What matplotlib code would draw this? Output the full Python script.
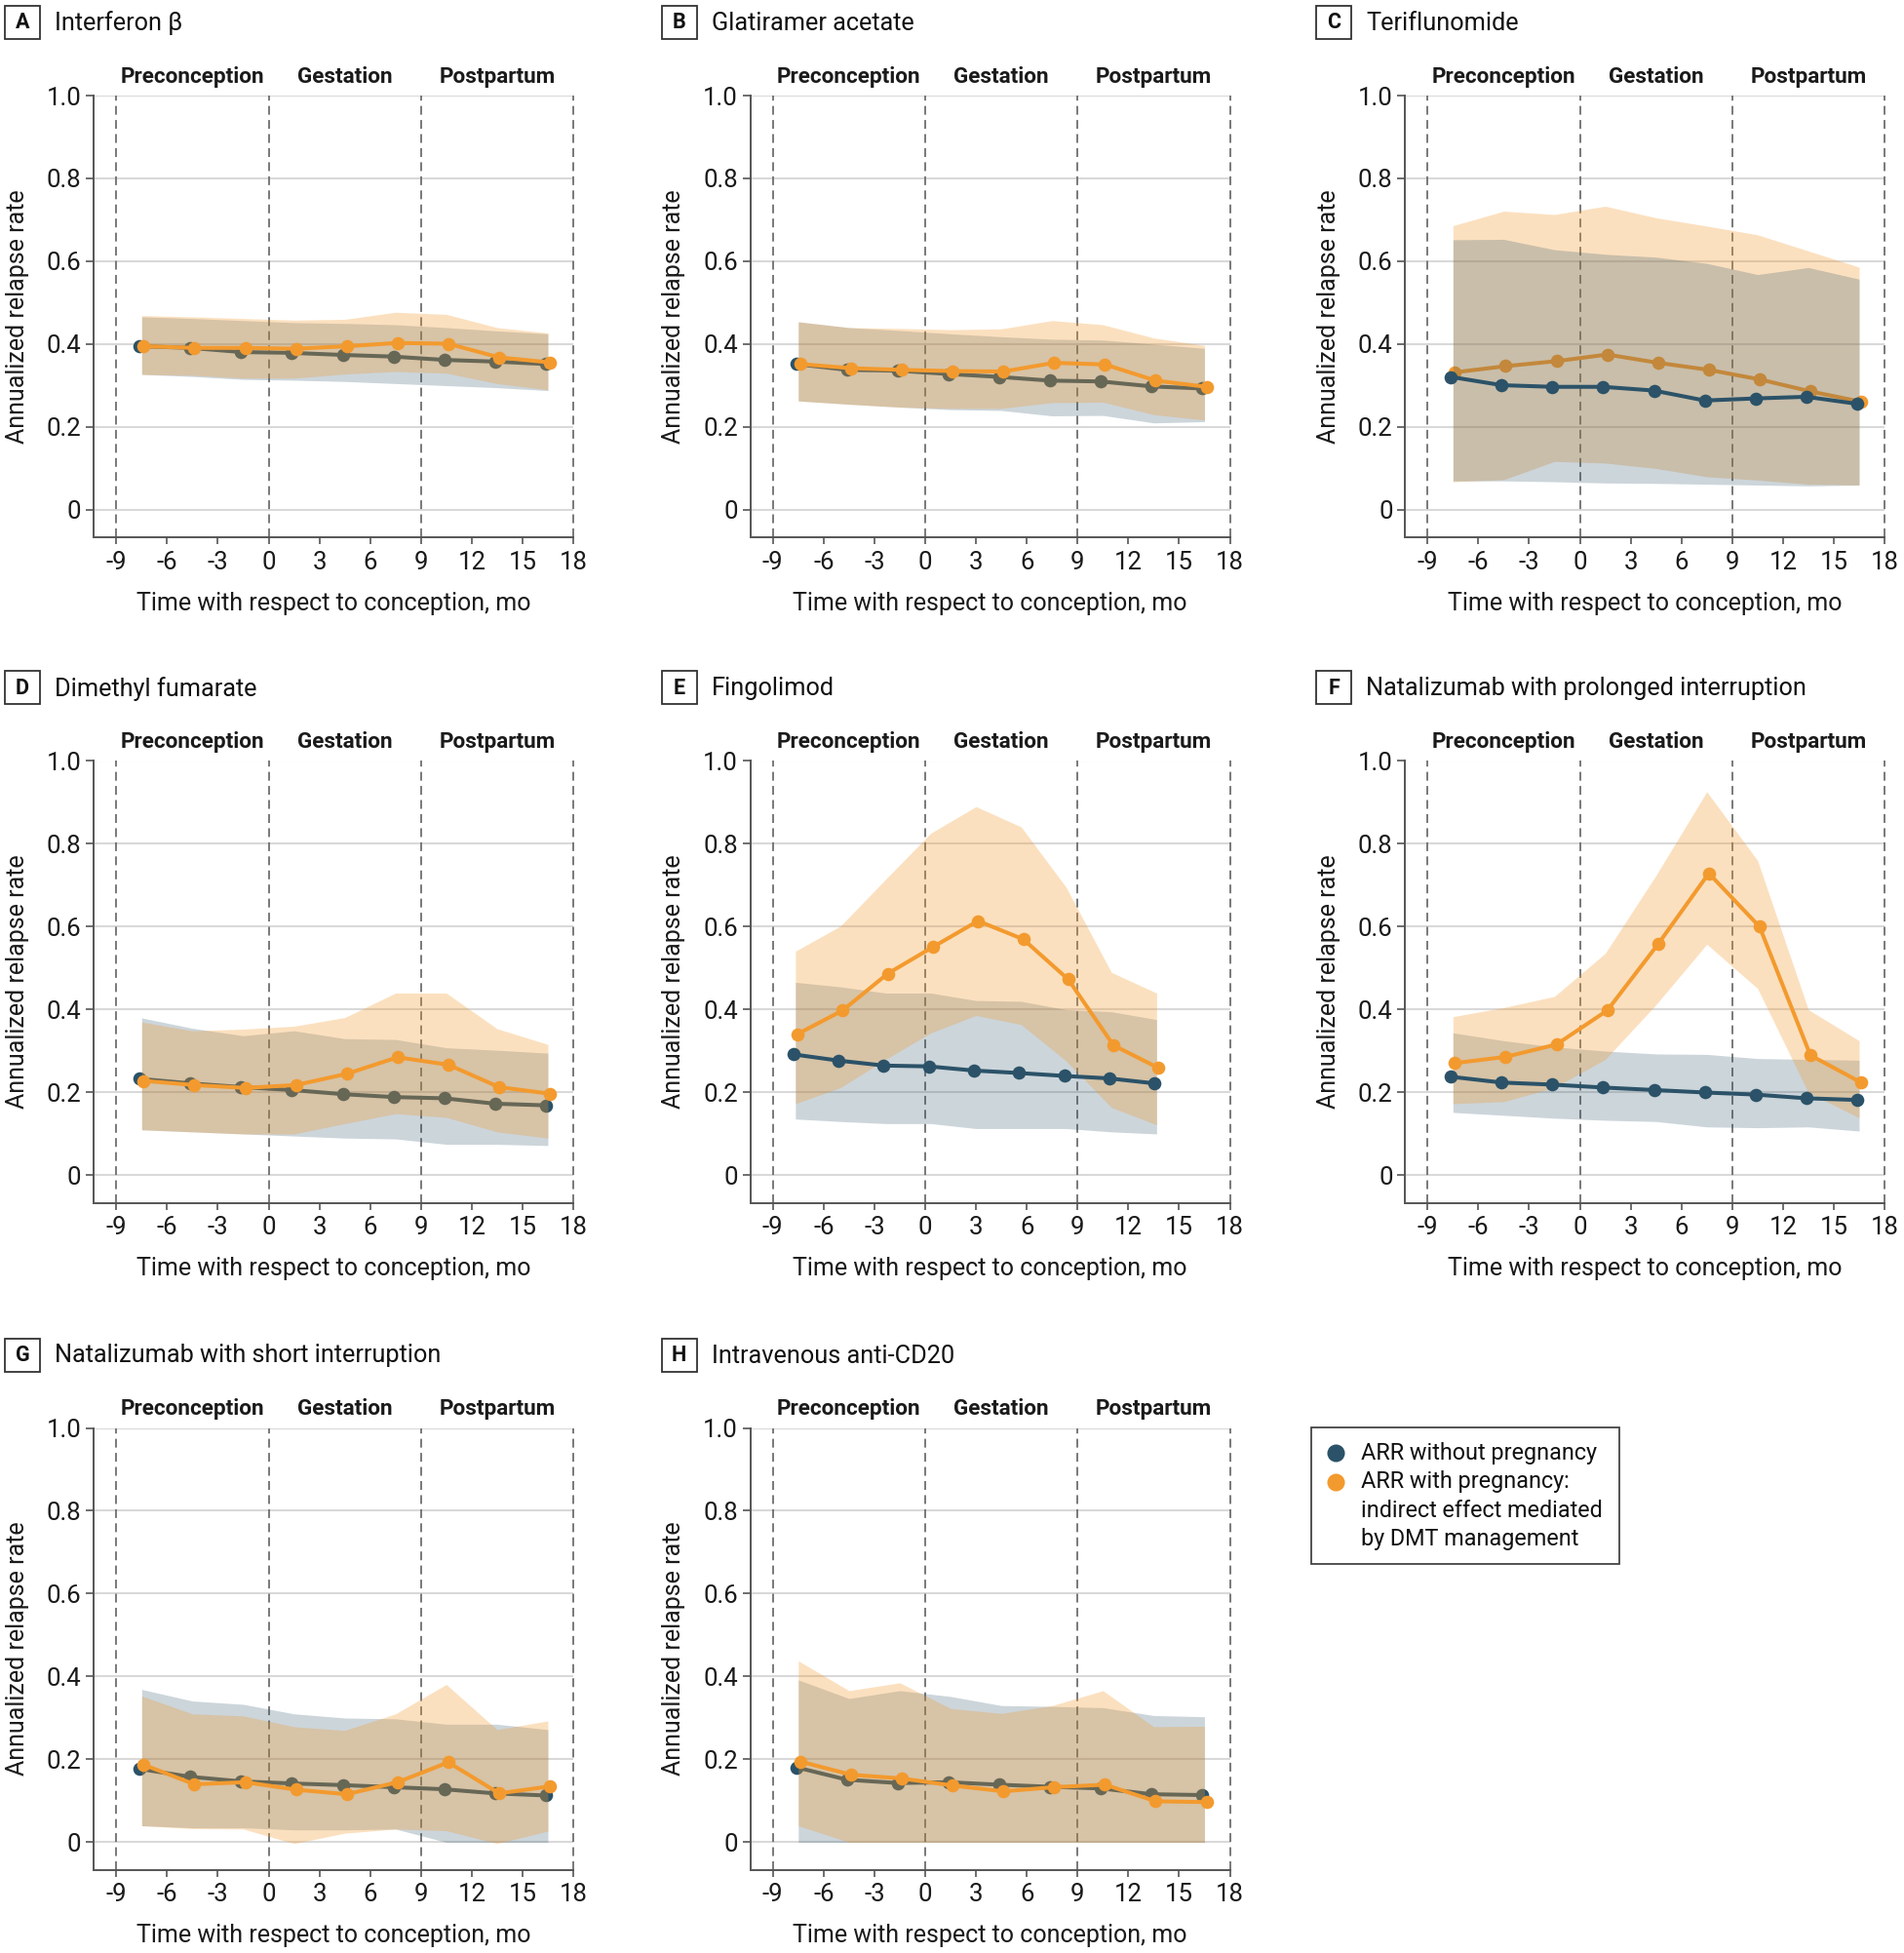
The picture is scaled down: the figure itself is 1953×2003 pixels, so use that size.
import matplotlib.pyplot as plt
import matplotlib.patches as mpatches
from matplotlib.lines import Line2D

plt.rcParams['font.family'] = ['Roboto', 'DejaVu Sans']
plt.rcParams['axes.unicode_minus'] = False

# Time bins (months with respect to conception)
months = [-7.5, -4.5, -1.5, 1.5, 4.5, 7.5, 10.5, 13.5, 16.5]
months_fingolimod = [-7.67, -5.0, -2.33, 0.33, 3.0, 5.67, 8.33, 11.0, 13.67]

period_names = ['Preconception', 'Gestation', 'Postpartum']
period_centers = [-4.5, 4.5, 13.5]
period_bounds = [-9, 0, 9, 18]
x_ticks = [-9, -6, -3, 0, 3, 6, 9, 12, 15, 18]
y_ticks = [0, 0.2, 0.4, 0.6, 0.8, 1.0]
y_ticklabels = ['0', '0.2', '0.4', '0.6', '0.8', '1.0']

# A Interferon beta
ifn_no = [0.395, 0.391, 0.381, 0.379, 0.374, 0.370, 0.362, 0.358, 0.352]
ifn_no_lo = [0.327, 0.322, 0.315, 0.313, 0.310, 0.305, 0.300, 0.295, 0.288]
ifn_no_hi = [0.466, 0.462, 0.457, 0.452, 0.450, 0.447, 0.440, 0.432, 0.425]
ifn_preg = [0.395, 0.391, 0.391, 0.389, 0.395, 0.403, 0.401, 0.368, 0.356]
ifn_preg_lo = [0.327, 0.325, 0.318, 0.318, 0.328, 0.334, 0.330, 0.305, 0.290]
ifn_preg_hi = [0.469, 0.466, 0.462, 0.458, 0.460, 0.477, 0.472, 0.440, 0.427]

# B Glatiramer acetate
ga_no = [0.352, 0.338, 0.336, 0.328, 0.321, 0.312, 0.310, 0.298, 0.293]
ga_no_lo = [0.263, 0.255, 0.248, 0.242, 0.240, 0.227, 0.228, 0.210, 0.213]
ga_no_hi = [0.454, 0.440, 0.433, 0.425, 0.418, 0.412, 0.410, 0.400, 0.390]
ga_preg = [0.352, 0.342, 0.338, 0.335, 0.334, 0.355, 0.351, 0.312, 0.297]
ga_preg_lo = [0.263, 0.255, 0.248, 0.245, 0.245, 0.259, 0.260, 0.230, 0.217]
ga_preg_hi = [0.454, 0.440, 0.438, 0.435, 0.437, 0.457, 0.447, 0.415, 0.397]

# C Teriflunomide
ter_no = [0.321, 0.301, 0.297, 0.297, 0.288, 0.264, 0.269, 0.273, 0.256]
ter_no_lo = [0.070, 0.070, 0.068, 0.065, 0.064, 0.062, 0.060, 0.058, 0.060]
ter_no_hi = [0.652, 0.653, 0.628, 0.617, 0.610, 0.595, 0.568, 0.585, 0.557]
ter_preg = [0.332, 0.347, 0.359, 0.375, 0.355, 0.338, 0.315, 0.286, 0.261]
ter_preg_lo = [0.068, 0.073, 0.117, 0.113, 0.100, 0.080, 0.072, 0.062, 0.060]
ter_preg_hi = [0.686, 0.721, 0.713, 0.733, 0.705, 0.685, 0.664, 0.625, 0.586]

# D Dimethyl fumarate
dmf_no = [0.233, 0.222, 0.213, 0.206, 0.196, 0.189, 0.186, 0.173, 0.169]
dmf_no_lo = [0.110, 0.105, 0.100, 0.095, 0.090, 0.088, 0.075, 0.075, 0.072]
dmf_no_hi = [0.380, 0.355, 0.337, 0.349, 0.330, 0.328, 0.308, 0.302, 0.295]
dmf_preg = [0.228, 0.218, 0.211, 0.218, 0.245, 0.285, 0.267, 0.213, 0.197]
dmf_preg_lo = [0.110, 0.105, 0.100, 0.100, 0.125, 0.149, 0.140, 0.105, 0.090]
dmf_preg_hi = [0.370, 0.349, 0.353, 0.360, 0.381, 0.440, 0.440, 0.354, 0.316]

# E Fingolimod
fin_no = [0.292, 0.277, 0.265, 0.263, 0.253, 0.247, 0.240, 0.234, 0.222]
fin_no_lo = [0.136, 0.130, 0.125, 0.125, 0.113, 0.113, 0.113, 0.105, 0.100]
fin_no_hi = [0.466, 0.455, 0.440, 0.440, 0.422, 0.420, 0.400, 0.395, 0.376]
fin_preg = [0.341, 0.398, 0.487, 0.551, 0.614, 0.570, 0.473, 0.314, 0.259]
fin_preg_lo = [0.173, 0.212, 0.280, 0.344, 0.386, 0.364, 0.276, 0.164, 0.122]
fin_preg_hi = [0.541, 0.602, 0.715, 0.826, 0.890, 0.841, 0.695, 0.490, 0.440]

# F Natalizumab, prolonged interruption
natp_no = [0.238, 0.224, 0.219, 0.212, 0.206, 0.200, 0.195, 0.186, 0.182]
natp_no_lo = [0.152, 0.145, 0.138, 0.133, 0.130, 0.117, 0.115, 0.117, 0.107]
natp_no_hi = [0.344, 0.325, 0.310, 0.300, 0.293, 0.292, 0.282, 0.280, 0.278]
natp_preg = [0.271, 0.286, 0.316, 0.398, 0.558, 0.729, 0.600, 0.290, 0.224]
natp_preg_lo = [0.173, 0.178, 0.212, 0.280, 0.412, 0.558, 0.451, 0.200, 0.139]
natp_preg_hi = [0.383, 0.405, 0.432, 0.536, 0.724, 0.926, 0.760, 0.400, 0.325]

# G Natalizumab, short interruption
nats_no = [0.177, 0.158, 0.147, 0.142, 0.138, 0.133, 0.128, 0.118, 0.113]
nats_no_lo = [0.040, 0.035, 0.035, 0.030, 0.030, 0.032, 0.000, 0.000, 0.000]
nats_no_hi = [0.369, 0.341, 0.333, 0.310, 0.300, 0.298, 0.285, 0.285, 0.272]
nats_preg = [0.187, 0.140, 0.145, 0.127, 0.116, 0.145, 0.193, 0.118, 0.135]
nats_preg_lo = [0.040, 0.033, 0.032, -0.003, 0.022, 0.032, 0.028, -0.003, 0.027]
nats_preg_hi = [0.353, 0.310, 0.305, 0.279, 0.270, 0.310, 0.381, 0.272, 0.293]

# H Intravenous anti-CD20
cd20_no = [0.181, 0.151, 0.143, 0.145, 0.139, 0.134, 0.130, 0.116, 0.114]
cd20_no_lo = [0.000, 0.000, 0.000, 0.000, 0.000, 0.000, 0.000, 0.000, 0.000]
cd20_no_hi = [0.392, 0.347, 0.366, 0.352, 0.330, 0.328, 0.325, 0.306, 0.303]
cd20_preg = [0.195, 0.163, 0.154, 0.137, 0.123, 0.133, 0.139, 0.099, 0.097]
cd20_preg_lo = [0.040, 0.000, 0.000, 0.000, 0.000, 0.000, 0.000, 0.000, 0.000]
cd20_preg_hi = [0.438, 0.366, 0.385, 0.323, 0.311, 0.330, 0.366, 0.279, 0.280]

panels = [
    ('A', 'Interferon β', months, ifn_no, ifn_no_lo, ifn_no_hi, ifn_preg, ifn_preg_lo, ifn_preg_hi),
    ('B', 'Glatiramer acetate', months, ga_no, ga_no_lo, ga_no_hi, ga_preg, ga_preg_lo, ga_preg_hi),
    ('C', 'Teriflunomide', months, ter_no, ter_no_lo, ter_no_hi, ter_preg, ter_preg_lo, ter_preg_hi),
    ('D', 'Dimethyl fumarate', months, dmf_no, dmf_no_lo, dmf_no_hi, dmf_preg, dmf_preg_lo, dmf_preg_hi),
    ('E', 'Fingolimod', months_fingolimod, fin_no, fin_no_lo, fin_no_hi, fin_preg, fin_preg_lo, fin_preg_hi),
    ('F', 'Natalizumab with prolonged interruption', months, natp_no, natp_no_lo, natp_no_hi,
     natp_preg, natp_preg_lo, natp_preg_hi),
    ('G', 'Natalizumab with short interruption', months, nats_no, nats_no_lo, nats_no_hi,
     nats_preg, nats_preg_lo, nats_preg_hi),
    ('H', 'Intravenous anti-CD20', months, cd20_no, cd20_no_lo, cd20_no_hi, cd20_preg, cd20_preg_lo, cd20_preg_hi),
]

GRAY = '#2B5268'
ORANGE = '#F39A2E'
AXIS = '#555555'
TXT = '#1a1a1a'

# drawing order (band no, line no, band preg, line preg) - differs a bit between panels
z_default = (1, 2, 3, 4)
z_order = {'C': (3, 4, 1, 2), 'E': (1, 3, 1.5, 4), 'F': (1, 3, 1.5, 4)}

W, H = 1953, 2003
fig = plt.figure(figsize=(W / 100, H / 100), dpi=100)

col_left = [96, 769.5, 1441]
row_top = [98, 780.5, 1464.5]
ax_w, ax_h = 492, 453

for i, (letter, title, x, no, no_lo, no_hi, preg, preg_lo, preg_hi) in enumerate(panels):
    left = col_left[i % 3]
    top = row_top[i // 3]
    ax = fig.add_axes([left / W, 1 - (top + ax_h) / H, ax_w / W, ax_h / H])

    zb_no, zl_no, zb_pr, zl_pr = z_order.get(letter, z_default)
    x_no = [v - 0.12 for v in x]
    x_pr = [v + 0.12 for v in x]
    ax.fill_between(x, no_lo, no_hi, color=GRAY, alpha=0.24, lw=0, zorder=zb_no)
    ax.plot(x_no, no, color=GRAY, lw=2.9, marker='o', ms=9.8, mew=0, zorder=zl_no)
    ax.fill_between(x, preg_lo, preg_hi, color=ORANGE, alpha=0.3, lw=0, zorder=zb_pr)
    ax.plot(x_pr, preg, color=ORANGE, lw=2.9, marker='o', ms=9.8, mew=0, zorder=zl_pr)

    for b in period_bounds:
        ax.axvline(b, color='#6e6e6e', lw=1.3, ls=(0, (5, 3)), zorder=0.8, clip_on=False)
    for name, c in zip(period_names, period_centers):
        ax.text(c, 1.02, name, ha='center', va='bottom', fontsize=16.2, fontweight='bold', color=TXT)

    ax.set_xlim(-10.34, 18)
    ax.set_ylim(-0.066, 1.0)
    ax.set_xticks(x_ticks)
    ax.set_xticklabels([str(t) for t in x_ticks])
    ax.set_yticks(y_ticks)
    ax.set_yticklabels(y_ticklabels)
    ax.yaxis.grid(True, color='#d9d9d9', lw=1.5)
    ax.set_axisbelow(True)
    for s in ['top', 'right']:
        ax.spines[s].set_visible(False)
    for s in ['left', 'bottom']:
        ax.spines[s].set_color(AXIS)
        ax.spines[s].set_linewidth(1.4)
    ax.tick_params(axis='x', length=5, width=1.2, color=AXIS, labelsize=18.5, pad=5, labelcolor=TXT)
    ax.tick_params(axis='y', length=6, width=1.2, color=AXIS, labelsize=18.5, pad=3, labelcolor=TXT)
    ax.set_xlabel('Time with respect to conception, mo', fontsize=18, color=TXT, va='top')
    ax.xaxis.set_label_coords(0.5, -0.123)
    ax.set_ylabel('Annualized relapse rate', fontsize=18, color=TXT)
    ax.yaxis.set_label_coords(-0.135, 0.5)

    # panel letter box and title
    bx, by = left - 91, top - 92
    fig.add_artist(mpatches.Rectangle((bx / W, 1 - (by + 34) / H), 36 / W, 34 / H,
                                      transform=fig.transFigure, fc='white', ec='#333333', lw=1.3))
    fig.text((bx + 18) / W, 1 - (by + 17) / H, letter, ha='center', va='center',
             fontsize=15.5, fontweight='bold', color='#111111')
    fig.text((left - 40) / W, 1 - (top - 74) / H, title, ha='left', va='center',
             fontsize=18.2, color='#111111')

# legend box
lx0, ly0, lx1, ly1 = 1345, 1464, 1661, 1604
fig.add_artist(mpatches.Rectangle((lx0 / W, 1 - ly1 / H), (lx1 - lx0) / W, (ly1 - ly0) / H,
                                  transform=fig.transFigure, fc='white', ec='#444444', lw=1.3))
legend_lines = ['ARR without pregnancy', 'ARR with pregnancy:', 'indirect effect mediated', 'by DMT management']
for k, txt in enumerate(legend_lines):
    fig.text(1396 / W, 1 - (1490 + 29.5 * k) / H, txt, ha='left', va='center', fontsize=16.8, color='#111111')
for k, col in enumerate([GRAY, ORANGE]):
    fig.add_artist(Line2D([1370 / W], [1 - (1490 + 29.5 * k) / H], transform=fig.transFigure,
                          marker='o', ms=13, mew=0, color=col, ls='none'))

fig.savefig('out.png', dpi=100)
